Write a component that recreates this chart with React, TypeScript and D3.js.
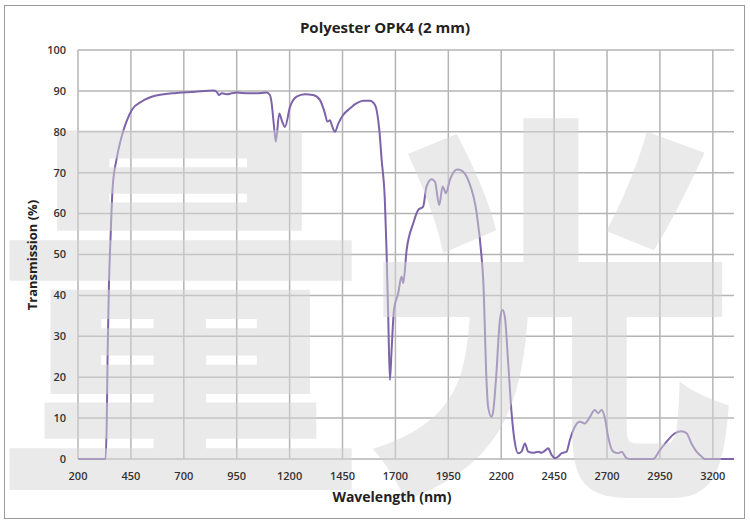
import React from "react";
import * as d3 from "d3";

const wavelengths = [
  200, 330, 336, 340, 346, 354, 364, 383, 398, 414, 430, 454, 501, 564, 643, 753, 839, 855, 866, 879,
  903, 926, 950, 973, 1021, 1068, 1091, 1107, 1115, 1125, 1135, 1151, 1165, 1178, 1202, 1233, 1272,
  1312, 1343, 1367, 1378, 1391, 1399, 1414, 1430, 1453, 1485, 1517, 1548, 1580, 1603, 1614, 1624,
  1635, 1650, 1658, 1666, 1674, 1682, 1693, 1713, 1729, 1737, 1753, 1784, 1808, 1831, 1847, 1871,
  1887, 1907, 1923, 1939, 1957, 1992, 2013, 2044, 2084, 2107, 2115, 2131, 2138, 2154, 2162, 2175,
  2194, 2206, 2217, 2233, 2249, 2265, 2280, 2296, 2312, 2327, 2351, 2375, 2391, 2406, 2422, 2438,
  2454, 2469, 2485, 2509, 2524, 2548, 2572, 2595, 2619, 2642, 2658, 2674, 2690, 2705, 2729, 2753,
  2769, 2792, 2808, 2918, 2950, 2981, 3021, 3052, 3076, 3099, 3123, 3147, 3163, 3300,
];
const transmission = [
  0, 0, 9.5, 25.8, 42.1, 54.4, 66.6, 73.5, 77.2, 80.2, 82.6, 85.3, 87.4, 88.8, 89.4, 89.8, 90.1, 89.8, 89, 89.4,
  89.2, 89.4, 89.6, 89.5, 89.4, 89.5, 89.6, 89, 87, 82, 77.6, 84.5, 82.5, 81.2, 86.1, 88.6, 89.2,
  89, 87.8, 84.5, 82.5, 82.8, 81.7, 80, 82, 84.1, 85.7, 87, 87.6, 87.6, 86.6, 84.5, 80.4,
  73.1, 63.3, 51.1, 34.8, 19.3, 26.7, 36.4, 40.5, 44.6, 43, 51.1, 57.6, 60.9, 61.7, 66.6, 68.4,
  67.8, 62.1, 66.6, 65, 68.2, 70.8, 70.5, 68.2, 60.1, 49.5, 43.8, 18.5, 12.8, 10.3, 11.6, 19.3,
  34, 36.4, 34.8, 23.4, 11.2, 3.8, 1.4, 1.8, 3.8, 1.8, 1.5, 1.8, 1.5, 2, 2.6, 1,
  0.2, 0.6, 1.4, 1.8, 4.6, 7.9, 9.1, 8.7, 10.3, 12, 11.2, 12, 10, 5.5, 1.8, 1.4,
  1.8, 0.2, 0, 0, 2.2, 4.2, 6.3, 6.8, 6.3, 3.8, 1.8, 0.6, 0, 0,
];
const xTicks = [200, 450, 700, 950, 1200, 1450, 1700, 1950, 2200, 2450, 2700, 2950, 3200];
const yTicks = [0, 10, 20, 30, 40, 50, 60, 70, 80, 90, 100];
const title = "Polyester OPK4 (2 mm)";
const xTitle = "Wavelength (nm)";
const yTitle = "Transmission (%)";
const watermark = "量光";

export default function App() {
  const W = 750, H = 521;
  const x = d3.scaleLinear().domain([200, 3300]).range([78, 734]);
  const y = d3.scaleLinear().domain([0, 100]).range([459, 50]);
  const pts = wavelengths.map((w, i) => [w, transmission[i]] as [number, number]);
  const line = d3
    .line<[number, number]>()
    .x((d) => x(d[0]))
    .y((d) => y(d[1]))
    .curve(d3.curveMonotoneX);
  const grid = "#b4b4b4";
  const labelFont = "'Open Sans', sans-serif";
  return (
    <svg
      width={W}
      height={H}
      style={{ position: "absolute", left: 0, top: 0, background: "#fff" }}
    >
      <rect x={0} y={0} width={W} height={H} fill="#fff" />
      <rect x={4.5} y={5.5} width={740} height={513} fill="#fff" stroke="#9a9a9a" strokeWidth={1} />
      {yTicks.map((t) => (
        <line key={"h" + t} x1={x(200)} x2={x(3300)} y1={y(t)} y2={y(t)} stroke={grid} strokeWidth={1.5} />
      ))}
      {xTicks.map((t) => (
        <line key={"v" + t} x1={x(t)} x2={x(t)} y1={y(0)} y2={y(100)} stroke={grid} strokeWidth={1.5} />
      ))}
      <path d={line(pts) || ""} fill="none" stroke="#7d63a8" strokeWidth={2} strokeLinejoin="round" />
      <g transform="translate(0,467) scale(1.02,1.1) translate(0,-467)">
        <text
          x={-6}
          y={462}
          fontFamily="'Noto Sans CJK SC', sans-serif"
          fontWeight={900}
          fontSize={365}
          fill="#d6d6d6"
          fillOpacity={0.5}
        >
          {watermark}
        </text>
      </g>
      {yTicks.map((t) => (
        <text
          key={"yl" + t}
          x={66}
          y={y(t)}
          dy="0.35em"
          textAnchor="end"
          fontFamily={labelFont}
          fontWeight={600}
          fontSize={11}
          fill="#333"
        >
          {t}
        </text>
      ))}
      {xTicks.map((t) => (
        <text
          key={"xl" + t}
          x={x(t)}
          y={480}
          textAnchor="middle"
          fontFamily={labelFont}
          fontWeight={600}
          fontSize={11}
          fill="#333"
        >
          {t}
        </text>
      ))}
      <text x={385} y={33} textAnchor="middle" fontFamily={labelFont} fontWeight={700} fontSize={15} fill="#222">
        {title}
      </text>
      <text x={392} y={502} textAnchor="middle" fontFamily={labelFont} fontWeight={700} fontSize={14} fill="#222">
        {xTitle}
      </text>
      <text
        transform="translate(37,255) rotate(-90)"
        textAnchor="middle"
        fontFamily={labelFont}
        fontWeight={700}
        fontSize={13}
        fill="#222"
      >
        {yTitle}
      </text>
    </svg>
  );
}
